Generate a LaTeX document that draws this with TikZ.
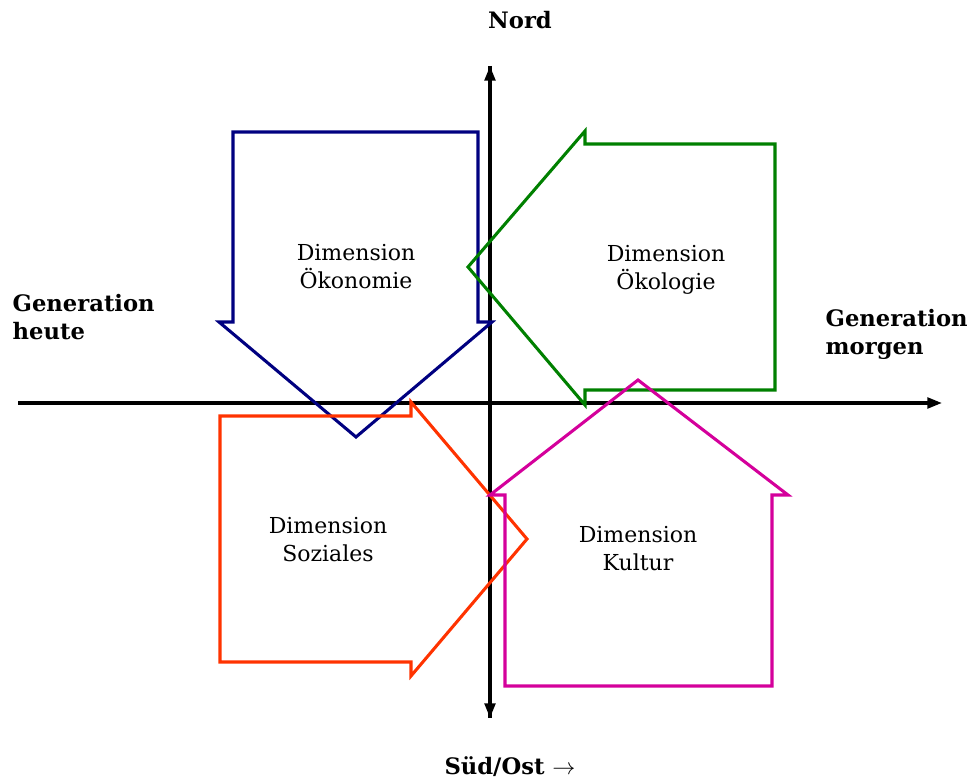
\documentclass[tikz,border=0pt]{standalone}
\usepackage{fontspec}
\setmainfont{DejaVu Serif}
\usetikzlibrary{arrows.meta}

\definecolor{oekonomie}{RGB}{0,0,128}
\definecolor{oekologie}{RGB}{0,128,0}
\definecolor{soziales}{RGB}{255,51,0}
\definecolor{kultur}{RGB}{212,0,155}

\tikzset{
  achse/.style={line width=2.4pt, -{Triangle[length=11pt,width=8pt]}},
  pfeil/.style={line width=2.3pt},
  dimlabel/.style={font=\fontsize{16.5}{21}\selectfont, align=center},
  achslabel/.style={font=\fontsize{17}{21}\selectfont\bfseries, align=left}
}

\begin{document}
\begin{tikzpicture}[x=0.75pt,y=-0.75pt]
\useasboundingbox (0,0) rectangle (976,780);
% axes
\coordinate (W) at (18,403);
\coordinate (E) at (942,403);
\coordinate (S) at (490,718);
\coordinate (N) at (490,66);
\draw[achse] (W) -- (E);
\draw[achse] (S) -- (N);
\draw[achse] (N) -- (S);

% Oekonomie, down
\draw[pfeil, oekonomie] (233,132) -- (478,132) -- (478,322) -- (492,322)
  -- (356,437) -- (219,322) -- (233,322) -- cycle;
% Oekologie, left
\draw[pfeil, oekologie] (775,144) -- (775,390) -- (585,390) -- (585,405)
  -- (468,267) -- (585,131) -- (585,144) -- cycle;
% Soziales, right
\draw[pfeil, soziales] (220,416) -- (411,416) -- (411,402) -- (527,539)
  -- (411,676) -- (411,662) -- (220,662) -- cycle;
% Kultur, up
\draw[pfeil, kultur] (505,686) -- (505,495) -- (490,495) -- (638,380)
  -- (788,495) -- (772,495) -- (772,686) -- cycle;

\node[dimlabel] (oek) at (356,267) {Dimension\\Ökonomie};
\node[dimlabel] (eko) at (666,270) {Dimension\\Ökologie};
\node[dimlabel] (soz) at (328,540) {Dimension\\Soziales};
\node[dimlabel] (kul) at (638,549) {Dimension\\Kultur};

\node[achslabel] (nord) at (520,20) {Nord};
\node[achslabel] (sued) at (510,767) {Süd/Ost $\rightarrow$};
\node[achslabel, anchor=west] (heute) at (8,317) {Generation\\heute};
\node[achslabel, anchor=west] (morgen) at (821,334) {Generation\\morgen};
\end{tikzpicture}
\end{document}
